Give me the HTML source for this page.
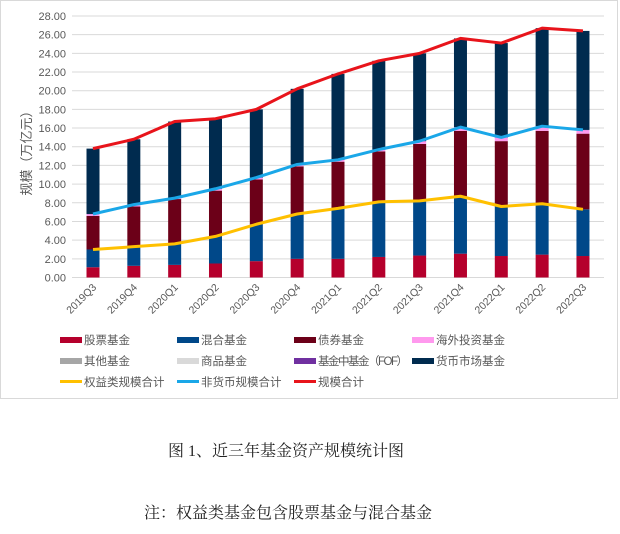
<!DOCTYPE html>
<html><head><meta charset="utf-8"><style>
body{margin:0;background:#fff;width:620px;height:529px;overflow:hidden;font-family:"Liberation Sans","Noto Sans CJK SC",sans-serif}
</style></head><body>
<svg width="620" height="529" xmlns="http://www.w3.org/2000/svg" font-family="Liberation Sans, Noto Sans CJK SC, sans-serif">
<rect x="0.5" y="0.5" width="617" height="398" fill="#fff" stroke="#d9d9d9"/>
<g id="grid" stroke="#d9d9d9" stroke-width="1"></g>
<g id="yl" font-size="11" fill="#595959" text-anchor="end"></g>
<text transform="translate(31,150) rotate(-90)" font-size="13" fill="#595959" text-anchor="middle">规模（万亿元）</text>
<g id="bars"></g>
<g id="lines" fill="none" stroke-width="3" stroke-linejoin="round"></g>
<g id="xl" font-size="10.5" fill="#595959" text-anchor="end"></g>
<g font-size="11.5" fill="#595959">
<rect x="60" y="337" width="22" height="6" fill="#b5002c"/><text x="84" y="344">股票基金</text>
<rect x="177" y="337" width="22" height="6" fill="#004889"/><text x="201" y="344">混合基金</text>
<rect x="294" y="337" width="22" height="6" fill="#6c0018"/><text x="318" y="344">债券基金</text>
<rect x="412" y="337" width="22" height="6" fill="#ff99ee"/><text x="436" y="344">海外投资基金</text>
<rect x="60" y="358" width="22" height="6" fill="#a6a6a6"/><text x="84" y="365">其他基金</text>
<rect x="177" y="358" width="22" height="6" fill="#d9d9d9"/><text x="201" y="365">商品基金</text>
<rect x="294" y="358" width="22" height="6" fill="#7030a0"/><text x="318" y="365" textLength="90">基金中基金（FOF）</text>
<rect x="412" y="358" width="22" height="6" fill="#002b4f"/><text x="436" y="365">货币市场基金</text>
<rect x="60" y="380" width="22" height="3" fill="#ffc000"/><text x="84" y="386">权益类规模合计</text>
<rect x="177" y="380" width="22" height="3" fill="#1aa7e8"/><text x="201" y="386">非货币规模合计</text>
<rect x="294" y="380" width="22" height="3" fill="#e8141b"/><text x="318" y="386">规模合计</text>
</g>
<text x="286" y="456" font-size="16" fill="#222" text-anchor="middle" font-family="Liberation Serif, Noto Serif CJK SC, serif">图 1、近三年基金资产规模统计图</text>
<text x="288" y="518" font-size="16" fill="#222" text-anchor="middle" font-family="Liberation Serif, Noto Serif CJK SC, serif">注：权益类基金包含股票基金与混合基金</text>
</svg>
<script>
const ns="http://www.w3.org/2000/svg";
function el(p,t,a,txt){const e=document.createElementNS(ns,t);for(const k in a)e.setAttribute(k,a[k]);if(txt)e.textContent=txt;document.getElementById(p).appendChild(e);return e;}
const y0=277.5,k=9.34,Y=v=>y0-v*k;
for(let v=0;v<=28;v+=2){el("grid","line",{x1:72,x2:604,y1:Y(v),y2:Y(v)});el("yl","text",{x:66,y:Y(v)+4},v.toFixed(2));}
const labs=["2019Q3","2019Q4","2020Q1","2020Q2","2020Q3","2020Q4","2021Q1","2021Q2","2021Q3","2021Q4","2022Q1","2022Q2","2022Q3"];
const stock=[1.1,1.25,1.35,1.5,1.75,2.0,2.0,2.2,2.35,2.55,2.3,2.45,2.3];
const eq=[3.0,3.3,3.6,4.4,5.7,6.8,7.4,8.1,8.2,8.7,7.6,7.9,7.3];
const bond=[6.6,7.6,8.4,9.3,10.5,11.9,12.4,13.5,14.3,15.7,14.6,15.7,15.4];
const nm=[6.8,7.8,8.5,9.5,10.7,12.1,12.6,13.7,14.6,16.1,15.0,16.2,15.8];
const tot=[13.8,14.8,16.7,17.0,18.0,20.2,21.8,23.2,24.0,25.6,25.1,26.7,26.4];
const X=i=>93+i*40.83,w=13;
function seg(i,a,b,c){el("bars","rect",{x:X(i)-w/2,y:Y(b),width:w,height:Y(a)-Y(b),fill:c});}
for(let i=0;i<13;i++){
 seg(i,0,stock[i],"#b5002c");seg(i,stock[i],eq[i],"#004889");seg(i,eq[i],bond[i],"#6c0018");
 seg(i,bond[i],nm[i]-0.02,"#ff99ee");seg(i,nm[i]-0.02,nm[i],"#7030a0");seg(i,nm[i],tot[i],"#002b4f");
 el("xl","text",{x:X(i)+4,y:288,transform:`rotate(-45 ${X(i)+4} 288)`},labs[i]);
}
function line(d,c){el("lines","polyline",{points:d.map((v,i)=>X(i)+","+Y(v)).join(" "),stroke:c});}
line(eq,"#ffc000");line(nm,"#1aa7e8");line(tot,"#e8141b");
</script>
</body></html>
